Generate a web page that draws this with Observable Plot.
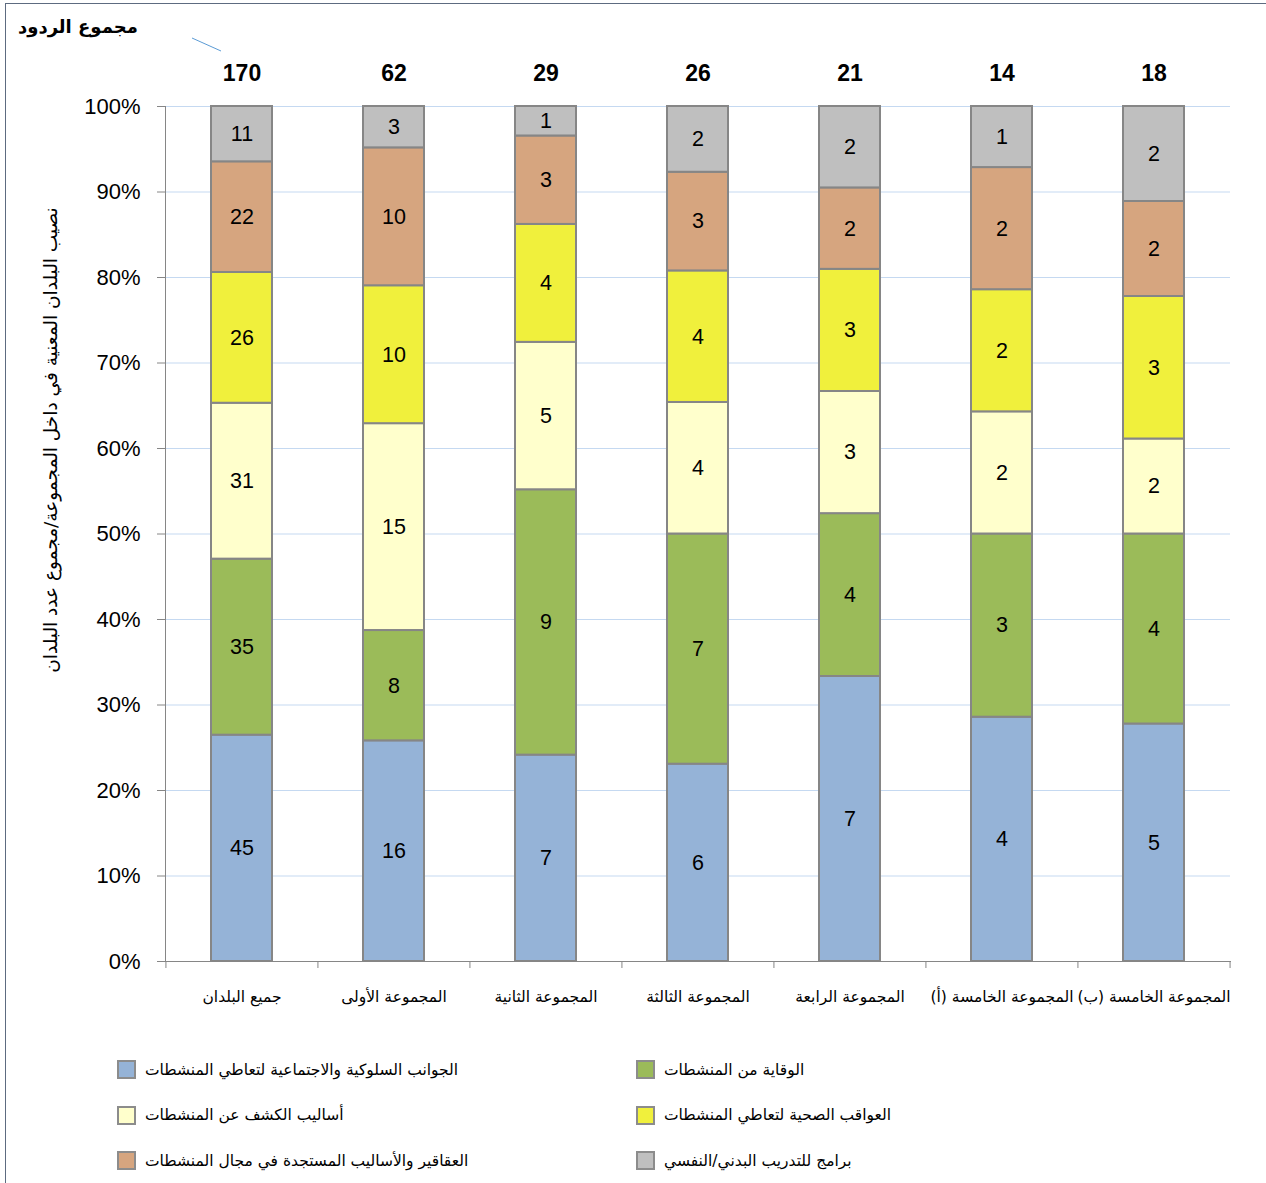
<!DOCTYPE html>
<html><head><meta charset="utf-8">
<script src="https://cdn.jsdelivr.net/npm/d3@7"></script>
<script src="https://cdn.jsdelivr.net/npm/@observablehq/plot@0.6"></script>
<style>
html,body{margin:0;padding:0;background:#fff}
body{width:1266px;height:1183px;overflow:hidden;position:relative;font-family:"DejaVu Sans",sans-serif}
#frame{position:absolute;left:5px;top:3px;width:1280px;height:1200px;border:1px solid #5d6b80;box-sizing:border-box}
#chart{position:absolute;left:0;top:0}
#title{position:absolute;left:18px;top:16px;font-weight:bold;font-size:18px;direction:rtl;white-space:nowrap}
#leader{position:absolute;left:0;top:0}
#ylabel{position:absolute;left:50px;top:440px;transform:translate(-50%,-50%) rotate(-90deg);font-size:18.5px;white-space:nowrap;direction:rtl}
#legend{position:absolute;left:117px;top:1047px;display:grid;grid-template-columns:519px 400px;grid-auto-rows:45.5px;align-items:center}
.item{display:flex;align-items:center;direction:ltr}
.sw{width:15px;height:15px;border:2px solid #8c8c8c;margin-right:9px;flex:none}
.lt{direction:rtl;font-size:15.5px;white-space:nowrap}
</style></head>
<body>
<div id="frame"></div>
<div id="chart"></div>
<svg id="leader" width="260" height="60"><line x1="192" y1="38" x2="221" y2="51" stroke="#5b9bd5" stroke-width="1"/></svg>
<div id="title">مجموع الردود</div>
<div id="ylabel">نصيب البلدان المعنية في داخل المجموعة/مجموع عدد البلدان</div>
<div id="legend"></div>
<script>
const groups = ["جميع البلدان","المجموعة الأولى","المجموعة الثانية","المجموعة الثالثة","المجموعة الرابعة","المجموعة الخامسة (أ)","المجموعة الخامسة (ب)"];
const totals = [170, 62, 29, 26, 21, 14, 18];
const categories = [
  "الجوانب السلوكية والاجتماعية لتعاطي المنشطات",
  "الوقاية من المنشطات",
  "أساليب الكشف عن المنشطات",
  "العواقب الصحية لتعاطي المنشطات",
  "العقاقير والأساليب المستجدة في مجال المنشطات",
  "برامج للتدريب البدني/النفسي"
];
const colors = ["#95B3D7", "#9BBB59", "#FFFFCC", "#F0F03C", "#D6A57F", "#BFBFBF"];
const behavioral = [45, 16, 7, 6, 7, 4, 5];
const prevention = [35, 8, 9, 7, 4, 3, 4];
const detection  = [31, 15, 5, 4, 3, 2, 2];
const health     = [26, 10, 4, 4, 3, 2, 3];
const drugs      = [22, 10, 3, 3, 2, 2, 2];
const training   = [11, 3, 1, 2, 2, 1, 2];
const yTicks = [0, 0.1, 0.2, 0.3, 0.4, 0.5, 0.6, 0.7, 0.8, 0.9, 1];

const series = [behavioral, prevention, detection, health, drugs, training];
const rows = [];
groups.forEach((g, i) => series.forEach((s, k) => rows.push({group: g, category: categories[k], count: s[i], share: s[i] / totals[i]})));

const W = 1266, mL = 165, mR = 36;
const step = (W - mL - mR) / groups.length;
const axisGrey = "#868686";

const chart = Plot.plot({
  width: W, height: 1040,
  marginLeft: mL, marginRight: mR, marginTop: 106, marginBottom: 79,
  style: {fontFamily: "Liberation Sans, Arial, sans-serif", background: "transparent", color: "#000"},
  x: {domain: groups, paddingInner: 0.6, paddingOuter: 0.3, axis: null, label: null},
  y: {domain: [0, 1], axis: null, label: null},
  color: {domain: categories, range: colors},
  marks: [
    Plot.gridY(yTicks, {stroke: "#C5D9F1", strokeOpacity: 1, strokeWidth: 1.2}),
    Plot.barY(rows, {x: "group", y: "share", fill: "category", stroke: "#868686", strokeWidth: 2}),
    Plot.text(rows, Plot.stackY({x: "group", y: "share", text: "count", fontSize: 21.5, fill: "#000"})),
    Plot.text(groups, {x: d => d, text: (d, i) => totals[i], frameAnchor: "top", lineAnchor: "middle", dy: -33, fontSize: 23, fontWeight: "bold", fill: "#000"}),
    Plot.text(groups, {x: d => d, text: d => d, frameAnchor: "bottom", lineAnchor: "middle", dy: 36, fontSize: 15.5, fontFamily: "DejaVu Sans, sans-serif", fill: "#000"}),
    Plot.frame({anchor: "left", stroke: axisGrey}),
    Plot.frame({anchor: "bottom", stroke: axisGrey}),
    Plot.axisY({ticks: yTicks, tickFormat: d3.format(".0%"), tickSize: 8, tickPadding: 17, fontSize: 22, stroke: axisGrey, fill: "#000"}),
    Plot.axisX({ticks: groups, tickSize: 7, tickFormat: () => "", dx: -step / 2, stroke: axisGrey}),
    Plot.axisX({ticks: [groups[groups.length - 1]], tickSize: 7, tickFormat: () => "", dx: step / 2, stroke: axisGrey})
  ]
});
document.getElementById("chart").appendChild(chart);

const legend = document.getElementById("legend");
categories.forEach((c, k) => {
  const it = document.createElement("div");
  it.className = "item";
  const sw = document.createElement("div");
  sw.className = "sw";
  sw.style.background = colors[k];
  const t = document.createElement("span");
  t.className = "lt";
  t.textContent = c;
  it.appendChild(sw); it.appendChild(t);
  legend.appendChild(it);
});
</script>
</body></html>
